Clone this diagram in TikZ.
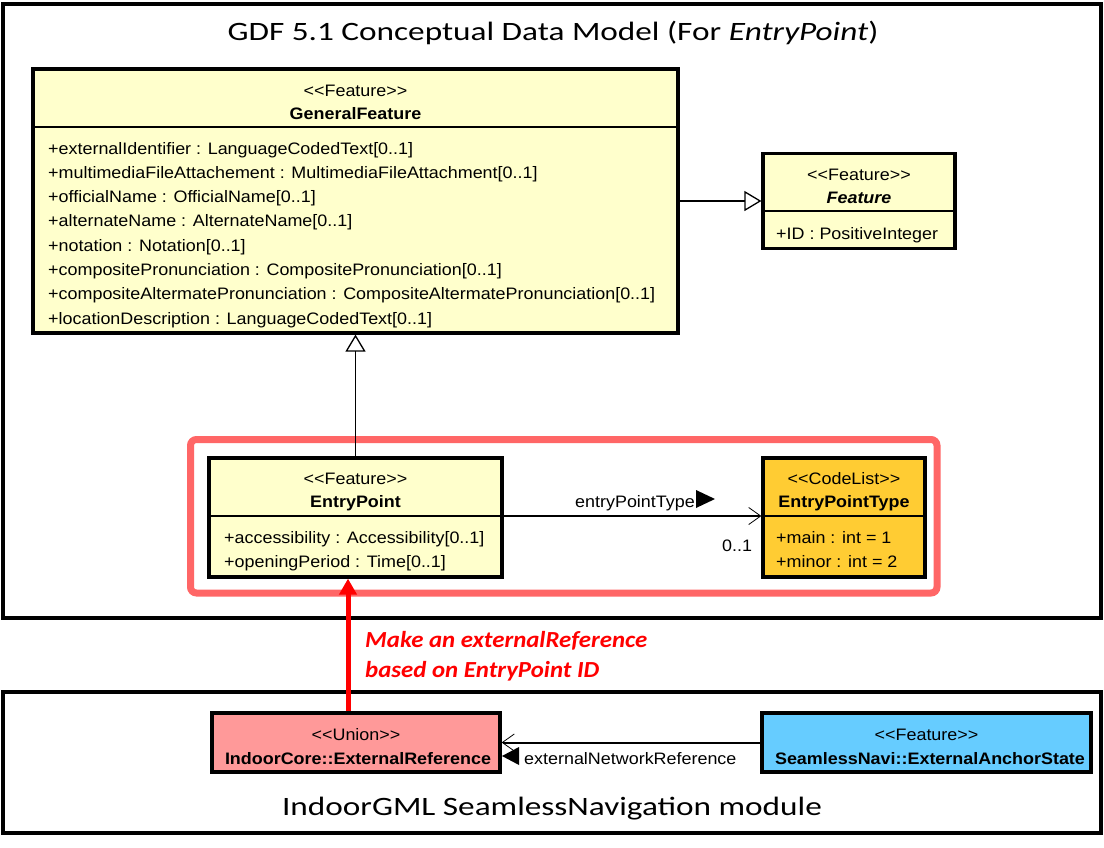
\documentclass[tikz,border=0pt]{standalone}
\usepackage{fontspec}
\setmainfont{Carlito}
\newfontfamily\umlf[FakeStretch=1.08]{Liberation Sans}
\newfontfamily\titlef[FakeStretch=1.255]{Carlito}
\newfontfamily\notef[FakeStretch=1.08]{Carlito}
\usetikzlibrary{arrows.meta}
\definecolor{umlyellow}{HTML}{FFFFCC}
\definecolor{codeorange}{HTML}{FFCC33}
\definecolor{unionred}{HTML}{FF9999}
\definecolor{featblue}{HTML}{66CCFF}
\definecolor{hlred}{HTML}{FF6666}
\definecolor{notered}{HTML}{FF0000}
\begin{document}
\begin{tikzpicture}[x=1pt,y=-1pt,
  frame/.style={draw=black, line width=4pt},
  umlbox/.style={draw=black, line width=3.2pt, inner sep=0pt, rectangle},
  divline/.style={draw=black, line width=2.8pt},
  umltxt/.style={font=\umlf\fontsize{16.6}{20}\selectfont, inner sep=0pt},
  umlname/.style={umltxt, font=\umlf\fontsize{16.6}{20}\selectfont\bfseries},
  gen/.style={draw=black, line width=1.3pt, -{Triangle[open, width=20pt, length=17pt, line width=1.3pt, fill=white]}},
  assoc/.style={draw=black, line width=2pt, -{Straight Barb[length=12pt, width=17pt, line width=0.8pt]}},
  redarr/.style={draw=notered, line width=5pt, -{Triangle[width=17pt, length=16pt]}},
  titletxt/.style={font=\titlef\fontsize{26.5}{30}\selectfont, inner sep=0pt},
  notetxt/.style={font=\notef\fontsize{23}{28}\selectfont\bfseries\itshape, text=notered, inner sep=0pt}
]
\useasboundingbox (0,0) rectangle (1104,847);
\fill[white] (0,0) rectangle (1104,847);

% frames
\draw[frame] (3,4) rectangle (1101,618);
\draw[frame] (3,692) rectangle (1101,833);
\node[titletxt, anchor=base] (title1) at (553,40) {GDF 5.1 Conceptual Data Model (For \textit{EntryPoint})};
\node[titletxt, anchor=base] (title2) at (552,815.5) {IndoorGML SeamlessNavigation module};

% highlight
\draw[draw=hlred, line width=7pt, rounded corners=6pt] (190.5,439.5) rectangle (937,593);

% GeneralFeature
\node[umlbox, fill=umlyellow, minimum width=645pt, minimum height=264pt] (gf) at (355.5,201) {};
\draw[divline] (33,127) -- (678,127);
\node[umltxt, anchor=base] (gfst) at (355.5,96) {<{}<Feature>{}>};
\node[umlname, anchor=base] (gfnm) at (355.5,119) {GeneralFeature};
\node[umltxt, anchor=base west] (gfa1) at (48,154) {+externalIdentifier : LanguageCodedText[0..1]};
\node[umltxt, anchor=base west] (gfa2) at (48,178.3) {+multimediaFileAttachement : MultimediaFileAttachment[0..1]};
\node[umltxt, anchor=base west] (gfa3) at (48,202.6) {+officialName : OfficialName[0..1]};
\node[umltxt, anchor=base west] (gfa4) at (48,226.9) {+alternateName : AlternateName[0..1]};
\node[umltxt, anchor=base west] (gfa5) at (48,251.2) {+notation : Notation[0..1]};
\node[umltxt, anchor=base west] (gfa6) at (48,275.5) {+compositePronunciation : CompositePronunciation[0..1]};
\node[umltxt, anchor=base west] (gfa7) at (48,299.8) {+compositeAltermatePronunciation : CompositeAltermatePronunciation[0..1]};
\node[umltxt, anchor=base west] (gfa8) at (48,324.1) {+locationDescription : LanguageCodedText[0..1]};

% Feature
\node[umlbox, fill=umlyellow, minimum width=192pt, minimum height=95pt] (feat) at (859,201) {};
\draw[divline] (763,211) -- (955,211);
\node[umltxt, anchor=base] (fst) at (859,180) {<{}<Feature>{}>};
\node[umlname, anchor=base] (fnm) at (859,203) {\itshape Feature};
\node[umltxt, anchor=base west] (fa1) at (776,239) {+ID : PositiveInteger};

% EntryPoint
\node[umlbox, fill=umlyellow, minimum width=293pt, minimum height=119pt] (ep) at (355.5,517.5) {};
\draw[divline] (209,516) -- (502,516);
\node[umltxt, anchor=base] (epst) at (355.5,484) {<{}<Feature>{}>};
\node[umlname, anchor=base] (epnm) at (355.5,507) {EntryPoint};
\node[umltxt, anchor=base west] (epa1) at (224,543) {+accessibility : Accessibility[0..1]};
\node[umltxt, anchor=base west] (epa2) at (224,567) {+openingPeriod : Time[0..1]};

% EntryPointType
\node[umlbox, fill=codeorange, minimum width=162pt, minimum height=119pt] (ept) at (844,517.5) {};
\draw[divline] (763,516) -- (925,516);
\node[umltxt, anchor=base] (eptst) at (844,484) {<{}<CodeList>{}>};
\node[umlname, anchor=base] (eptnm) at (844,507) {EntryPointType};
\node[umltxt, anchor=base west] (epta1) at (776,543) {+main : int = 1};
\node[umltxt, anchor=base west] (epta2) at (776,567) {+minor : int = 2};

% ExternalReference
\node[umlbox, fill=unionred, minimum width=288pt, minimum height=59pt] (er) at (356,742.5) {};
\node[umltxt, anchor=base] (erst) at (356,740) {<{}<Union>{}>};
\node[umlname, anchor=base] (ernm) at (358,764) {IndoorCore::ExternalReference};

% ExternalAnchorState
\node[umlbox, fill=featblue, minimum width=329pt, minimum height=59pt] (eas) at (926.5,742.5) {};
\node[umltxt, anchor=base] (easst) at (926.5,740) {<{}<Feature>{}>};
\node[umlname, anchor=base] (easnm) at (930,764) {SeamlessNavi::ExternalAnchorState};

% generalizations
\draw[gen] (gf.east) -- (feat.west);
\draw[gen] (ep.north) -- (gf.south);

% associations
\draw[assoc] ([yshift=1.5pt]ep.east) -- ([yshift=1.5pt]ept.west);
\node[umltxt, anchor=base west] (lbl1) at (575,507) {entryPointType};
\fill[black] (696,490) -- (715,499) -- (696,508) -- cycle;
\node[umltxt, anchor=base west] (mult1) at (722,551) {0..1};

\draw[assoc] (eas.west) -- (er.east);
\fill[black] (502,756) -- (519,747) -- (519,765) -- cycle;
\node[umltxt, anchor=base west] (lbl2) at (524,764) {externalNetworkReference};

% red reference arrow
\draw[redarr] ([xshift=-8pt]er.north) -- ([xshift=-7.5pt]ep.south);
\node[notetxt, anchor=base west] (note1) at (365,647) {Make an externalReference};
\node[notetxt, anchor=base west] (note2) at (365,677) {based on EntryPoint ID};
\end{tikzpicture}
\end{document}
